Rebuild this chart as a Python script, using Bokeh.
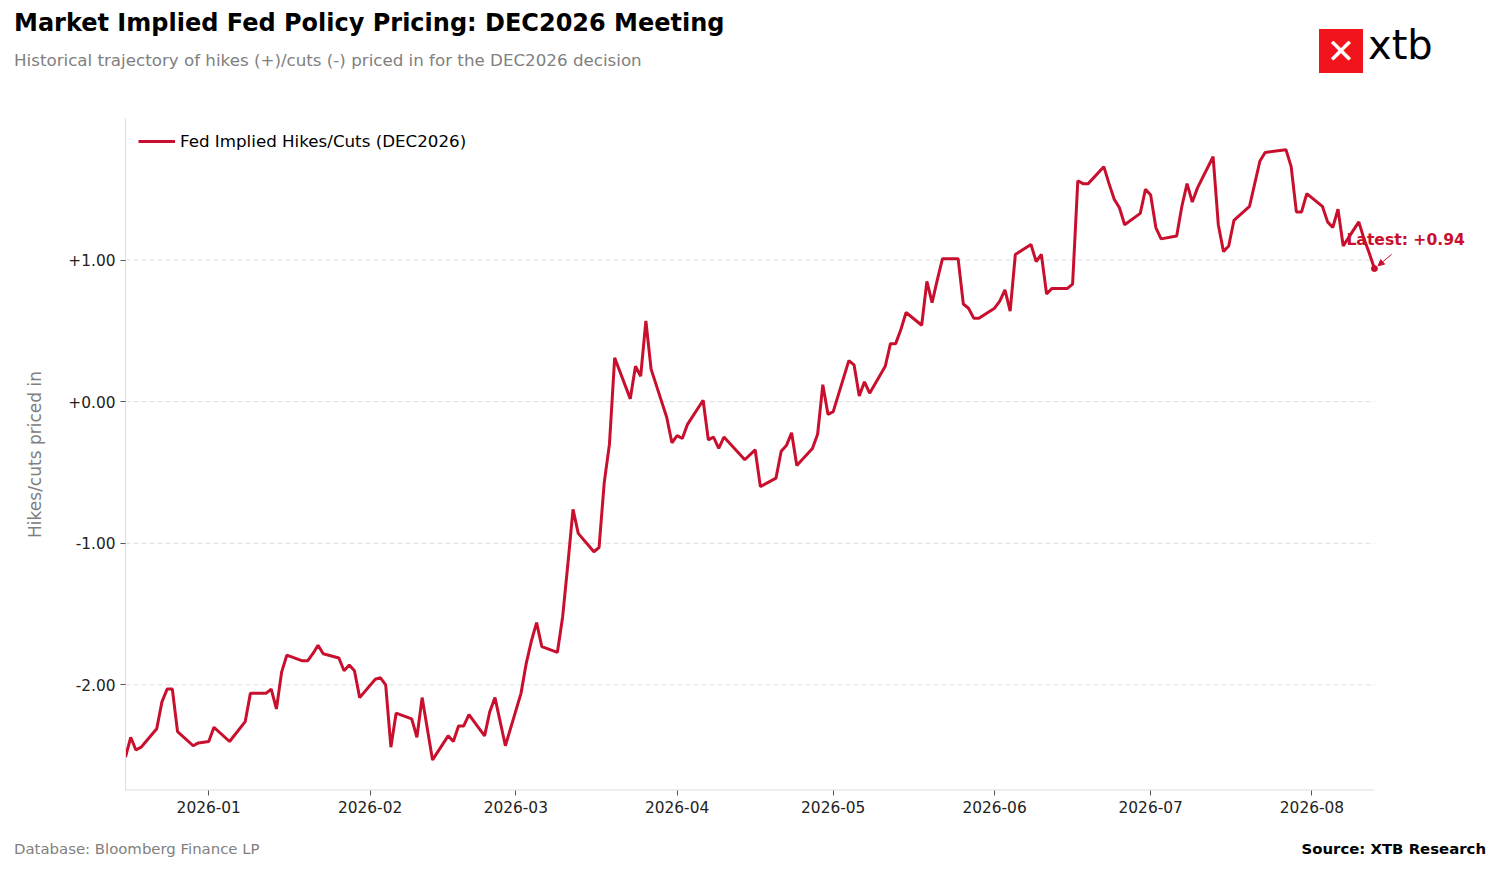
import datetime as dt
from bokeh.plotting import figure
from bokeh.layouts import column
from bokeh.models import (ColumnDataSource, FixedTicker, PrintfTickFormatter, DatetimeTickFormatter,
                          Label, Legend, LegendItem, Arrow, NormalHead, Range1d, Div)
from bokeh.embed import file_html
from bokeh.resources import INLINE

base = dt.date(2026, 1, 1)
day_offsets = [-16,-15,-14,-13,-10,-9,-8,-7,-6,-3,-2,0,1,4,7,8,11,12,13,14,15,18,19,20,21,22,25,26,27,28,29,
 32,33,34,35,36,39,40,41,43,46,47,48,49,50,53,54,55,57,60,61,62,63,64,67,68,69,70,71,74,75,76,77,78,81,82,83,84,85,
 88,89,90,91,92,95,96,97,98,99,102,103,105,106,109,110,111,112,113,116,117,118,119,120,123,124,125,126,127,
 130,131,132,133,134,137,138,139,140,141,144,145,146,147,148,151,152,153,154,155,158,159,160,161,162,
 165,166,167,168,169,172,173,174,175,176,179,180,181,182,183,186,187,188,189,190,193,194,195,196,197,
 200,201,202,203,207,208,209,210,211,214,215,216,217,218,221,222,223,224]
values = [-2.51,-2.37,-2.46,-2.44,-2.31,-2.12,-2.03,-2.03,-2.33,-2.43,-2.41,-2.40,-2.30,-2.40,-2.26,-2.06,-2.06,-2.03,-2.17,-1.91,-1.79,
 -1.83,-1.83,-1.78,-1.72,-1.78,-1.81,-1.90,-1.86,-1.90,-2.09,-1.96,-1.95,-2.00,-2.44,-2.20,-2.24,-2.37,-2.09,-2.53,
 -2.36,-2.40,-2.29,-2.29,-2.21,-2.36,-2.19,-2.09,-2.43,-2.06,-1.85,-1.69,-1.56,-1.73,-1.77,-1.52,-1.15,-0.76,-0.93,
 -1.06,-1.03,-0.57,-0.30,0.31,0.02,0.25,0.18,0.57,0.23,-0.11,-0.29,-0.24,-0.26,-0.16,0.01,-0.27,-0.25,-0.33,-0.25,
 -0.37,-0.41,-0.34,-0.60,-0.54,-0.35,-0.31,-0.22,-0.45,-0.33,-0.23,0.12,-0.09,-0.07,0.29,0.26,0.04,0.14,0.06,
 0.25,0.41,0.41,0.51,0.63,0.54,0.85,0.70,0.86,1.01,1.01,0.69,0.66,0.59,0.59,0.66,0.71,0.79,0.64,1.04,
 1.11,0.99,1.04,0.76,0.80,0.80,0.83,1.56,1.54,1.54,1.66,1.54,1.43,1.37,1.25,1.33,1.50,1.46,1.23,1.15,
 1.17,1.38,1.54,1.41,1.51,1.73,1.25,1.06,1.10,1.28,1.38,1.54,1.70,1.76,1.78,1.66,1.34,1.34,1.47,
 1.38,1.27,1.23,1.36,1.10,1.27,1.15,1.05,0.94]
ytick_values = [-2, -1, 0, 1]
xtick_months = ["2026-01-01", "2026-02-01", "2026-03-01", "2026-04-01",
                "2026-05-01", "2026-06-01", "2026-07-01", "2026-08-01"]

dates = [dt.datetime.combine(base + dt.timedelta(days=d), dt.time()) for d in day_offsets]
src = ColumnDataSource(dict(x=dates, y=values))
RED = "#c8102e"
FONT = "DejaVu Sans"
Y0, Y1 = -2.746, 2.0
EPOCH = dt.datetime(1970, 1, 1)
xtick_ms = [(dt.datetime.fromisoformat(s) - EPOCH).total_seconds() * 1000 for s in xtick_months]

header = Div(width=1484, height=100, text=f"""
<div style="position:relative;width:1484px;height:100px;font-family:'{FONT}';">
 <div style="position:absolute;left:9px;top:1px;font-size:24px;font-weight:bold;color:black;white-space:nowrap;">Market Implied Fed Policy Pricing: DEC2026 Meeting</div>
 <div style="position:absolute;left:9px;top:44px;font-size:16.7px;color:#808080;white-space:nowrap;">Historical trajectory of hikes (+)/cuts (-) priced in for the DEC2026 decision</div>
 <div style="position:absolute;left:1314px;top:24px;width:44px;height:44px;background:#f2141c;color:white;font-size:34px;font-weight:bold;line-height:44px;text-align:center;">✕</div>
 <div style="position:absolute;left:1363px;top:12px;font-size:40px;color:black;white-space:nowrap;">xtb</div>
</div>""")

footer = Div(width=1484, height=30, text=f"""
<div style="position:relative;width:1484px;height:30px;font-family:'{FONT}';font-size:14.9px;">
 <div style="position:absolute;left:9px;top:4px;color:#808080;white-space:nowrap;">Database: Bloomberg Finance LP</div>
 <div style="position:absolute;right:3px;top:4px;color:black;font-weight:bold;white-space:nowrap;">Source: XTB Research</div>
</div>""")

x_end = dates[-1] + dt.timedelta(days=20)
p = figure(width=1484, height=720, x_axis_type="datetime", output_backend="svg", toolbar_location=None,
           min_border_left=125, min_border_right=6, min_border_top=8, min_border_bottom=40,
           x_range=Range1d(dates[0], x_end), y_range=Range1d(Y0, Y1))
p.outline_line_color = None
p.background_fill_color = "white"

# grid lines and bottom spine spanning only the data period
p.segment(x0=[dates[0]] * len(ytick_values), x1=[dates[-1]] * len(ytick_values), y0=ytick_values,
          y1=ytick_values, line_color="#dddddd", line_dash="5 3", line_width=1)
p.segment(x0=[dates[0]], x1=[dates[-1]], y0=[Y0], y1=[Y0], line_color="#dddddd", line_width=2)

r = p.line("x", "y", source=src, line_color=RED, line_width=3)
p.scatter([dates[-1]], [values[-1]], size=6, color=RED)

p.yaxis.ticker = FixedTicker(ticks=ytick_values)
p.yaxis.formatter = PrintfTickFormatter(format="%+.2f")
p.xaxis.ticker = FixedTicker(ticks=xtick_ms)
p.xaxis.formatter = DatetimeTickFormatter(months="%Y-%m", days="%Y-%m")
for ax in (p.xaxis, p.yaxis):
    ax.axis_line_color = "#dddddd"
    ax.major_tick_line_color = "#555555"
    ax.minor_tick_line_color = None
    ax.major_tick_out = 5
    ax.major_tick_in = 0
    ax.major_label_text_font = FONT
    ax.major_label_text_font_size = "15.4px"
    ax.major_label_text_color = "#222222"
p.xaxis.axis_line_color = None
p.yaxis.axis_label = "Hikes/cuts priced in"
p.yaxis.axis_label_text_font = FONT
p.yaxis.axis_label_text_font_size = "17px"
p.yaxis.axis_label_text_font_style = "normal"
p.yaxis.axis_label_text_color = "#808080"
p.yaxis.axis_label_standoff = 20
p.xgrid.grid_line_color = None
p.ygrid.grid_line_color = None

leg = Legend(items=[LegendItem(label="Fed Implied Hikes/Cuts (DEC2026)", renderers=[r])],
             location="top_left", border_line_color=None, background_fill_alpha=0, margin=13,
             label_text_font=FONT, label_text_font_size="16.7px", label_text_color="black", glyph_width=37)
p.add_layout(leg)

p.add_layout(Label(x=dates[-1], y=values[-1], text="Latest: +0.94", x_offset=-28, y_offset=20,
                   text_font=FONT, text_font_size="15.6px", text_font_style="bold", text_color=RED))
p.add_layout(Arrow(end=NormalHead(size=6, line_color=RED, fill_color=RED, line_width=1),
                   x_start=dates[-1] + dt.timedelta(days=3.3), y_start=values[-1] + 0.10,
                   x_end=dates[-1] + dt.timedelta(days=0.7), y_end=values[-1] + 0.02,
                   line_color=RED, line_width=1))

open("out.html", "w").write(file_html(column(header, p, footer, spacing=0), INLINE))
